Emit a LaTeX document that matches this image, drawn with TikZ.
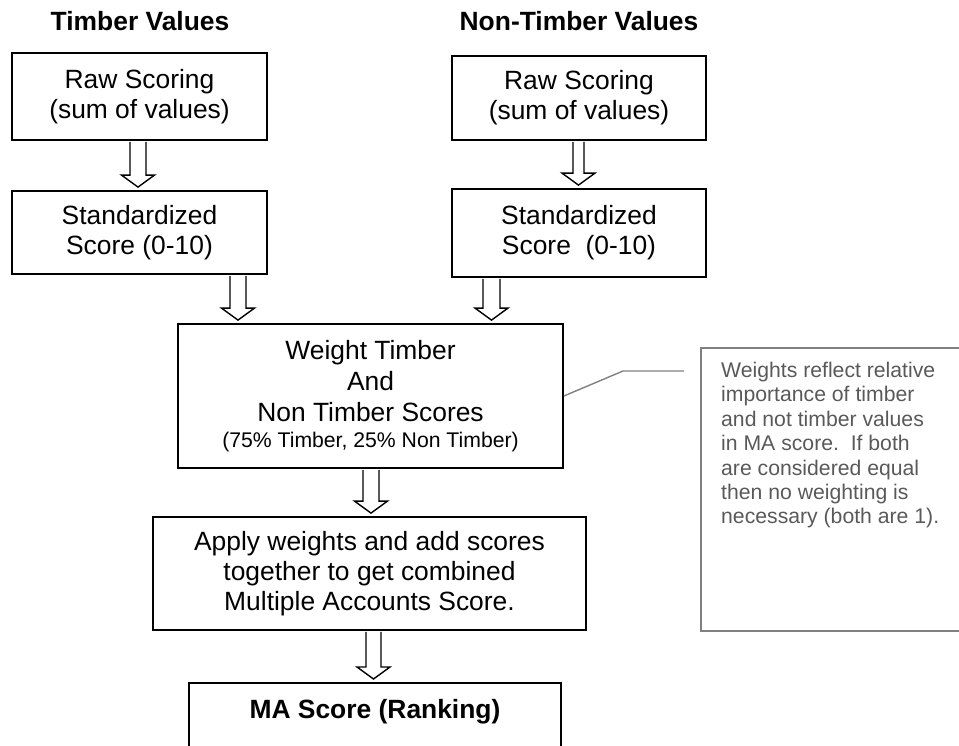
\documentclass[tikz,border=0pt]{standalone}
\usepackage{fontspec}
\setmainfont{Liberation Sans}
\usetikzlibrary{calc}
\definecolor{callgray}{HTML}{808080}
\definecolor{calltextcol}{HTML}{595959}
\tikzset{
  box/.style={draw=black, line width=1.8pt, align=center, inner sep=0pt, font=\fontsize{26.4}{30}\selectfont},
  titletext/.style={font=\bfseries\fontsize{26.4}{30}\selectfont, inner sep=0pt},
  barrowstyle/.style={draw=black, line width=1.4pt, fill=white, line join=miter},
  leader/.style={draw=callgray, line width=1.4pt},
  callbox/.style={draw=callgray, line width=1.8pt, inner sep=0pt},
  calltxt/.style={text=calltextcol, align=left, inner sep=0pt, font=\fontsize{21.2}{24.4}\selectfont},
}
% #1 x, #2 half shaft width, #3 source node, #4 target node
\newcommand\blockarrow[4]{%
  \path[barrowstyle] let \p1=(#3.south), \p2=(#4.north) in
    (#1pt-#2pt,\y1-0.9pt) -- (#1pt-#2pt,\y2+15pt) -- (#1pt-16.5pt,\y2+15pt)
    -- (#1pt,\y2+3pt) -- (#1pt+16.5pt,\y2+15pt) -- (#1pt+#2pt,\y2+15pt)
    -- (#1pt+#2pt,\y1-0.9pt);
}
\begin{document}
\begin{tikzpicture}[x=1pt,y=-1pt]
\useasboundingbox (0,0) rectangle (959,745);
\clip (0,0) rectangle (959,745);

\node[titletext] (tvt) at (140,21.5) {Timber Values};
\node[titletext] (ntvt) at (579,21.5) {Non-Timber Values};

\node[box, minimum width=255pt, minimum height=87pt] (raw1) at (139.5,96.5) {Raw Scoring\\(sum of values)};
\node[box, minimum width=254pt, minimum height=84pt] (raw2) at (579,98) {Raw Scoring\\(sum of values)};
\node[box, minimum width=255pt, minimum height=83pt] (std1) at (139.5,232.5) {Standardized\\Score (0-10)};
\node[box, minimum width=254pt, minimum height=88pt] (std2) at (579,233) {Standardized\\Score\ \ (0-10)};

\node[box, font=\fontsize{26.4}{31}\selectfont, minimum width=385pt, minimum height=144pt] (weight) at (370.5,396)
  {Weight Timber\\And\\Non Timber Scores\\[-5pt]{\fontsize{21.2}{26}\selectfont (75\% Timber, 25\% Non Timber)}};

\node[box, minimum width=433pt, minimum height=113pt] (apply) at (369.5,573.5)
  {Apply weights and add scores\\together to get combined\\Multiple Accounts Score.};

\node[box, font=\bfseries\fontsize{26.4}{30}\selectfont, anchor=north, minimum width=372pt,
  text height=36pt, text depth=60pt] (ma) at (375,682) {MA Score (Ranking)};

\node[callbox, anchor=north west, minimum width=300pt, minimum height=283pt] (call) at (700,347) {};
\node[calltxt, anchor=north west] (calltext) at (721,362) {Weights reflect relative\\importance of timber\\and not timber values\\in MA score.\ \ If both\\are considered equal\\then no weighting is\\necessary (both are 1).};

\coordinate (lead) at (684,371);
\draw[leader] (weight.east) -- (623,371) -- (lead);

\blockarrow{138}{8}{raw1}{std1}
\blockarrow{238}{8}{std1}{weight}
\blockarrow{578.5}{5.5}{raw2}{std2}
\blockarrow{491.5}{8.5}{std2}{weight}
\blockarrow{371}{8}{weight}{apply}
\blockarrow{373.5}{7.5}{apply}{ma}
\end{tikzpicture}
\end{document}
